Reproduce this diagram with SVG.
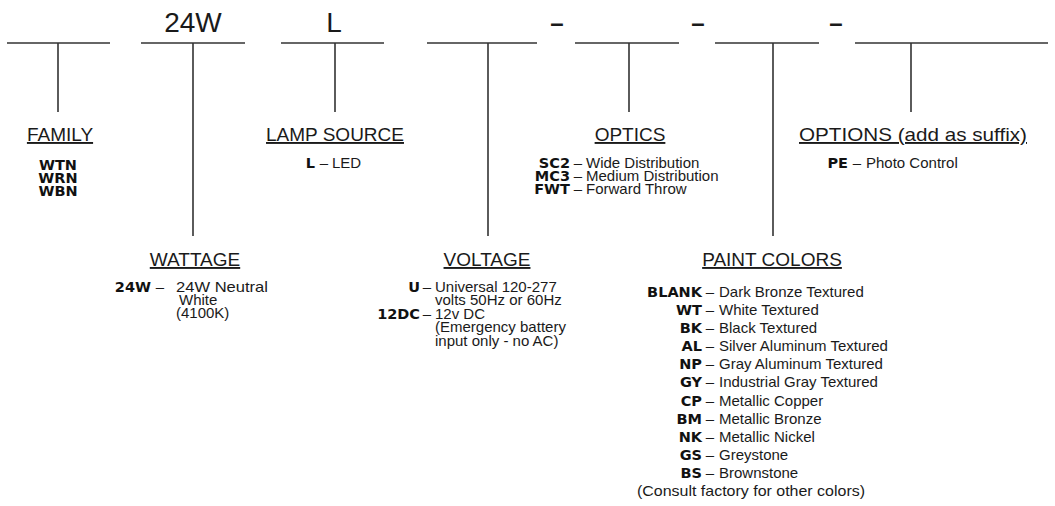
<svg xmlns="http://www.w3.org/2000/svg" width="1055" height="506" viewBox="0 0 1055 506">
<style>
.bg{fill:#fff}
.slot{stroke:#333;stroke-width:1.6;fill:none}
.conn{stroke:#333;stroke-width:1.6;fill:none}
.big{font-family:"Liberation Sans",Arial,sans-serif;font-size:28px;fill:#1a1a1a;text-anchor:middle}
.dash{font-family:"Liberation Sans",Arial,sans-serif;font-size:24px;font-weight:bold;fill:#1a1a1a;text-anchor:middle}
.hd{font-family:"Liberation Sans",Arial,sans-serif;font-size:19px;fill:#1a1a1a;text-anchor:middle;text-decoration:underline}
.code{font-family:"DejaVu Sans",Verdana,sans-serif;font-weight:bold;font-size:14.5px;fill:#111}
.ce{text-anchor:end}
.cm{text-anchor:middle}
.t{font-family:"Liberation Sans",Arial,sans-serif;font-size:15px;fill:#1a1a1a}
.tm{text-anchor:middle}
</style>
<rect class="bg" x="0" y="0" width="1055" height="506"/>

<g id="slots">
  <line class="slot" x1="7" y1="43" x2="110" y2="43"/>
  <line class="slot" x1="141" y1="43" x2="245" y2="43"/>
  <line class="slot" x1="281" y1="43" x2="384" y2="43"/>
  <line class="slot" x1="427" y1="43" x2="537" y2="43"/>
  <line class="slot" x1="575" y1="43" x2="679" y2="43"/>
  <line class="slot" x1="715" y1="43" x2="819" y2="43"/>
  <line class="slot" x1="855" y1="43" x2="1048" y2="43"/>
  <text class="big" x="193" y="32">24W</text>
  <text class="big" x="334" y="32">L</text>
  <text class="dash" x="557" y="31">–</text>
  <text class="dash" x="698" y="31">–</text>
  <text class="dash" x="836" y="31">–</text>
</g>

<g id="connectors">
  <line class="conn" x1="58" y1="43" x2="58" y2="112"/>
  <line class="conn" x1="193" y1="43" x2="193" y2="236"/>
  <line class="conn" x1="335" y1="43" x2="335" y2="112"/>
  <line class="conn" x1="488" y1="43" x2="488" y2="236"/>
  <line class="conn" x1="629" y1="43" x2="629" y2="112"/>
  <line class="conn" x1="773" y1="43" x2="773" y2="236"/>
  <line class="conn" x1="911" y1="43" x2="911" y2="112"/>
</g>

<g id="node-family">
  <text class="hd" x="60" y="141">FAMILY</text>
  <text class="code cm" x="58" y="170">WTN</text>
  <text class="code cm" x="58" y="183">WRN</text>
  <text class="code cm" x="58" y="196">WBN</text>
</g>

<g id="node-lamp-source">
  <text class="hd" x="335" y="141">LAMP SOURCE</text>
  <text class="code ce" x="315" y="168">L</text>
  <text class="t tm" x="324" y="168">–</text>
  <text class="t" x="332" y="168">LED</text>
</g>

<g id="node-optics">
  <text class="hd" x="630" y="141">OPTICS</text>
  <text class="code ce" x="570" y="168">SC2</text>
  <text class="t tm" x="578" y="168">–</text>
  <text class="t" x="586" y="168">Wide Distribution</text>
  <text class="code ce" x="570" y="181">MC3</text>
  <text class="t tm" x="578" y="181">–</text>
  <text class="t" x="586" y="181">Medium Distribution</text>
  <text class="code ce" x="570" y="194">FWT</text>
  <text class="t tm" x="578" y="194">–</text>
  <text class="t" x="586" y="194">Forward Throw</text>
</g>

<g id="node-options">
  <text class="hd" x="913" y="141" textLength="228" lengthAdjust="spacingAndGlyphs">OPTIONS (add as suffix)</text>
  <text class="code ce" x="848" y="168">PE</text>
  <text class="t tm" x="857" y="168">–</text>
  <text class="t" x="866" y="168">Photo Control</text>
</g>

<g id="node-wattage">
  <text class="hd" x="195" y="266">WATTAGE</text>
  <text class="code ce" x="151" y="292">24W</text>
  <text class="t tm" x="160" y="292">–</text>
  <text class="t" x="176" y="292" textLength="92" lengthAdjust="spacingAndGlyphs">24W Neutral</text>
  <text class="t" x="179" y="305">White</text>
  <text class="t" x="176" y="318">(4100K)</text>
</g>

<g id="node-voltage">
  <text class="hd" x="487" y="266">VOLTAGE</text>
  <text class="code ce" x="420" y="292">U</text>
  <text class="t tm" x="427" y="292">–</text>
  <text class="t" x="435" y="292">Universal 120-277</text>
  <text class="t" x="435" y="305">volts 50Hz or 60Hz</text>
  <text class="code ce" x="420" y="319">12DC</text>
  <text class="t tm" x="427" y="319">–</text>
  <text class="t" x="435" y="319">12v DC</text>
  <text class="t" x="435" y="332">(Emergency battery</text>
  <text class="t" x="435" y="346">input only - no AC)</text>
</g>

<g id="node-paint-colors">
  <text class="hd" x="772" y="266">PAINT COLORS</text>
  <g>
    <text class="code ce" x="702" y="297">BLANK</text><text class="t tm" x="710" y="297">–</text><text class="t" x="719" y="297">Dark Bronze Textured</text>
    <text class="code ce" x="702" y="315">WT</text><text class="t tm" x="710" y="315">–</text><text class="t" x="719" y="315">White Textured</text>
    <text class="code ce" x="702" y="333">BK</text><text class="t tm" x="710" y="333">–</text><text class="t" x="719" y="333">Black Textured</text>
    <text class="code ce" x="702" y="351">AL</text><text class="t tm" x="710" y="351">–</text><text class="t" x="719" y="351">Silver Aluminum Textured</text>
    <text class="code ce" x="702" y="369">NP</text><text class="t tm" x="710" y="369">–</text><text class="t" x="719" y="369">Gray Aluminum Textured</text>
    <text class="code ce" x="702" y="387">GY</text><text class="t tm" x="710" y="387">–</text><text class="t" x="719" y="387">Industrial Gray Textured</text>
    <text class="code ce" x="702" y="406">CP</text><text class="t tm" x="710" y="406">–</text><text class="t" x="719" y="406">Metallic Copper</text>
    <text class="code ce" x="702" y="424">BM</text><text class="t tm" x="710" y="424">–</text><text class="t" x="719" y="424">Metallic Bronze</text>
    <text class="code ce" x="702" y="442">NK</text><text class="t tm" x="710" y="442">–</text><text class="t" x="719" y="442">Metallic Nickel</text>
    <text class="code ce" x="702" y="460">GS</text><text class="t tm" x="710" y="460">–</text><text class="t" x="719" y="460">Greystone</text>
    <text class="code ce" x="702" y="478">BS</text><text class="t tm" x="710" y="478">–</text><text class="t" x="719" y="478">Brownstone</text>
    <text class="t tm" x="751" y="496" textLength="228" lengthAdjust="spacingAndGlyphs">(Consult factory for other colors)</text>
  </g>
</g>
</svg>
